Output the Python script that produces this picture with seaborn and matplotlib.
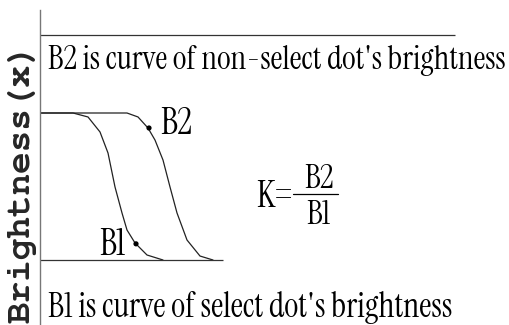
import matplotlib
matplotlib.use('Agg')
import matplotlib.pyplot as plt
import seaborn as sns
import pandas as pd

# curve points: x = distance from the axis, y = brightness (1 = plateau, 0 = floor)
b1_x = [0, 33, 48, 60, 68, 75, 82, 87, 95, 107, 123]
b1_y = [1, 1, 0.973, 0.871, 0.728, 0.497, 0.32, 0.204, 0.116, 0.034, 0]
b2_x = [0, 87, 98, 108, 115, 123, 130, 137, 147, 160, 173]
b2_y = [1, 1, 0.973, 0.898, 0.816, 0.68, 0.497, 0.32, 0.136, 0.027, 0]
dot_x = [96, 109]
dot_y = [0.11, 0.898]
curve_names = ['B1', 'B2']

top_note = "B2 is curve of non-select dot's brightness"
bottom_note = "B1 is curve of select dot's brightness"
ylabel = "Brightness(x)"

df = pd.concat([
    pd.DataFrame({'x': b1_x, 'b': b1_y, 'curve': 'B1'}),
    pd.DataFrame({'x': b2_x, 'b': b2_y, 'curve': 'B2'}),
])
dots = pd.DataFrame({'x': dot_x, 'b': dot_y, 'curve': curve_names})

sns.set_style('white')
serif = ['Instrument Serif', 'Liberation Serif', 'DejaVu Serif']
mono = ['FreeMono', 'Liberation Mono', 'DejaVu Sans Mono']

fig = plt.figure(figsize=(5.09, 3.25), dpi=100)
ax = fig.add_axes([40 / 509, 0, 469 / 509, 315 / 325])
ax.set_xlim(0, 469)
ax.set_ylim(-65 / 147, 250 / 147)

sns.lineplot(data=df, x='x', y='b', hue='curve', palette=['#222222', '#222222'],
             sort=False, legend=False, lw=0.9, ax=ax)
sns.scatterplot(data=dots, x='x', y='b', color='black', s=14, edgecolor='none',
                legend=False, ax=ax, zorder=3)

ax.hlines(225 / 147, 0, 415, color='#333333', lw=0.9)
ax.hlines(0, 0, 183, color='#333333', lw=0.9)

for s in ['top', 'right', 'bottom']:
    ax.spines[s].set_visible(False)
ax.spines['left'].set_color('#777777')
ax.spines['left'].set_linewidth(1.0)
ax.set_xticks([])
ax.set_yticks([])
ax.set_xlabel('')
ax.set_ylabel('')

tkw = dict(family=serif, color='black')
t_top = ax.text(8, 200 / 147, top_note, va='center', ha='left', fontsize=16, **tkw)
t_bot = ax.text(8, -47 / 147, bottom_note, va='center', ha='left', fontsize=16, **tkw)
ax.text(136, 0.925, 'B2', va='center', ha='center', fontsize=26, **tkw)
ax.text(72, 0.10, 'B1', va='center', ha='center', fontsize=26, **tkw)

# K = B2 / B1
ax.text(253, 0.425, 'K=', va='center', ha='right', fontsize=26, **tkw)
ax.text(279, 0.545, 'B2', va='center', ha='center', fontsize=24, **tkw)
ax.text(279, 0.30, 'B1', va='center', ha='center', fontsize=24, **tkw)
ax.plot([253, 298], [0.449, 0.449], color='black', lw=0.9)

t_lab = fig.text(22 / 509, 1 - 183 / 325, ylabel, rotation=90, va='center', ha='center',
                 family=mono, fontweight='bold', fontsize=20)

# scale the long texts to the widths they take in the drawing
fig.canvas.draw()
for t, w, horiz in [(t_top, 456, True), (t_bot, 405, True), (t_lab, 280, False)]:
    bb = t.get_window_extent()
    cur = bb.width if horiz else bb.height
    t.set_fontsize(t.get_fontsize() * w / cur)

fig.savefig('out.png', dpi=100)
